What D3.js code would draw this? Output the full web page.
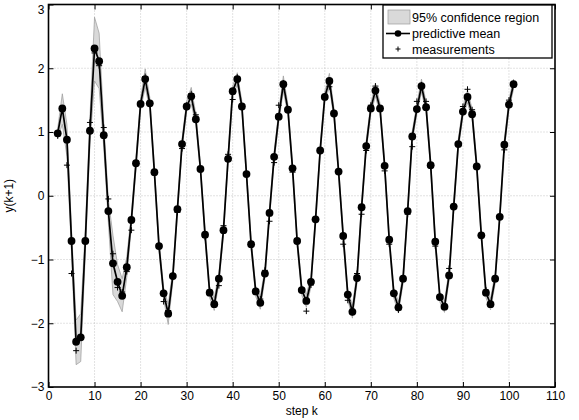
<!DOCTYPE html>
<html>
<head>
<meta charset="UTF-8">
<script src="https://d3js.org/d3.v7.min.js"></script>
<style>
  body { margin: 0; background: #fff; }
  text { font-family: "Liberation Sans", Arial, sans-serif; }
</style>
</head>
<body>
<script>
// steps k = 2..101
var steps = d3.range(2, 102);

// predictive mean
var mean = [
  0.98, 1.37, 0.88, -0.71, -2.29, -2.22, -0.71, 1.02, 2.31, 2.11,
  0.95, -0.24, -1.06, -1.35, -1.57, -1.12, -0.38, 0.51, 1.44, 1.83,
  1.45, 0.37, -0.79, -1.53, -1.85, -1.26, -0.21, 0.81, 1.40, 1.56,
  1.20, 0.42, -0.61, -1.52, -1.70, -1.30, -0.54, 0.58, 1.64, 1.83,
  1.40, 0.34, -0.76, -1.50, -1.68, -1.22, -0.27, 0.61, 1.24, 1.75,
  1.35, 0.43, -0.71, -1.48, -1.65, -1.35, -0.37, 0.71, 1.55, 1.80,
  1.29, 0.38, -0.63, -1.55, -1.82, -1.29, -0.18, 0.78, 1.37, 1.65,
  1.37, 0.47, -0.69, -1.53, -1.75, -1.30, -0.24, 0.93, 1.36, 1.72,
  1.39, 0.48, -0.72, -1.59, -1.74, -1.25, -0.17, 0.81, 1.32, 1.55,
  1.28, 0.46, -0.62, -1.52, -1.70, -1.30, -0.33, 0.80, 1.43, 1.75
];

// measurements
var meas = [
  0.94, 1.34, 0.48, -1.22, -2.43, -2.21, -0.70, 1.15, 2.24, 2.04,
  1.07, -0.05, -0.91, -1.44, -1.51, -1.19, -0.54, 0.50, 1.44, 1.87,
  1.46, 0.36, -0.78, -1.66, -1.80, -1.25, -0.26, 0.74, 1.42, 1.60,
  1.27, 0.41, -0.65, -1.48, -1.69, -1.41, -0.47, 0.65, 1.51, 1.86,
  1.41, 0.33, -0.77, -1.49, -1.62, -1.17, -0.40, 0.52, 1.42, 1.77,
  1.34, 0.37, -0.72, -1.47, -1.81, -1.40, -0.36, 0.70, 1.56, 1.71,
  1.30, 0.37, -0.76, -1.64, -1.83, -1.22, -0.29, 0.71, 1.42, 1.72,
  1.36, 0.39, -0.76, -1.52, -1.79, -1.29, -0.29, 0.77, 1.48, 1.74,
  1.48, 0.45, -0.79, -1.58, -1.75, -1.14, -0.18, 0.80, 1.40, 1.67,
  1.35, 0.45, -0.63, -1.48, -1.71, -1.31, -0.34, 0.72, 1.50, 1.76
];

// lower / upper edge of the 95% confidence region
var lower = [
  0.90, 1.12, 0.62, -0.88, -2.65, -2.60, -0.90, 0.80, 1.80, 1.68,
  0.76, -0.42, -1.55, -1.66, -1.82, -1.28, -0.48, 0.42, 1.35, 1.70,
  1.36, 0.29, -0.87, -1.62, -2.02, -1.35, -0.29, 0.73, 1.32, 1.44,
  1.12, 0.34, -0.69, -1.60, -1.80, -1.38, -0.62, 0.50, 1.56, 1.74,
  1.32, 0.26, -0.84, -1.58, -1.78, -1.30, -0.35, 0.53, 1.16, 1.64,
  1.27, 0.35, -0.79, -1.56, -1.75, -1.43, -0.45, 0.63, 1.47, 1.70,
  1.21, 0.30, -0.71, -1.63, -1.92, -1.37, -0.26, 0.70, 1.29, 1.56,
  1.29, 0.39, -0.77, -1.61, -1.84, -1.38, -0.32, 0.85, 1.28, 1.63,
  1.31, 0.40, -0.80, -1.67, -1.83, -1.33, -0.25, 0.73, 1.24, 1.46,
  1.20, 0.38, -0.70, -1.60, -1.79, -1.38, -0.41, 0.72, 1.35, 1.67
];
var upper = [
  1.06, 1.60, 1.12, -0.54, -1.95, -1.85, -0.52, 1.24, 2.80, 2.55,
  1.15, -0.06, -0.62, -1.08, -1.30, -0.96, -0.28, 0.60, 1.53, 1.99,
  1.54, 0.45, -0.71, -1.44, -1.70, -1.17, -0.13, 0.89, 1.48, 1.70,
  1.28, 0.50, -0.53, -1.44, -1.60, -1.22, -0.46, 0.66, 1.72, 1.93,
  1.48, 0.42, -0.68, -1.42, -1.58, -1.14, -0.19, 0.69, 1.32, 1.88,
  1.43, 0.51, -0.63, -1.40, -1.55, -1.27, -0.29, 0.79, 1.63, 1.92,
  1.37, 0.46, -0.55, -1.47, -1.72, -1.21, -0.10, 0.86, 1.45, 1.76,
  1.45, 0.55, -0.61, -1.45, -1.66, -1.22, -0.16, 1.01, 1.44, 1.83,
  1.47, 0.56, -0.64, -1.51, -1.65, -1.17, -0.09, 0.89, 1.40, 1.66,
  1.36, 0.54, -0.54, -1.44, -1.61, -1.22, -0.25, 0.88, 1.51, 1.83
];

var xTicks = d3.range(0, 111, 10);
var yTicks = d3.range(-3, 4, 1);
var legendLabels = ["95% confidence region", "predictive mean", "measurements"];

var W = 579, H = 420;
var margin = { top: 4.5, right: 24, bottom: 33, left: 48.5 };
var width = W - margin.left - margin.right,
    height = H - margin.top - margin.bottom;

var svg = d3.select("body").append("svg")
    .attr("width", W)
    .attr("height", H);

var g = svg.append("g")
    .attr("transform", "translate(" + margin.left + "," + margin.top + ")");

var x = d3.scaleLinear().domain([0, 110]).range([0, width]);
var y = d3.scaleLinear().domain([-3, 3]).range([height, 0]);

var data = steps.map(function (k, i) {
    return { k: k, m: mean[i], z: meas[i], lo: lower[i], hi: upper[i] };
});

// grid
g.append("g").selectAll("line")
    .data(xTicks.slice(1, -1)).enter().append("line")
    .attr("x1", d => x(d)).attr("x2", d => x(d))
    .attr("y1", 0).attr("y2", height)
    .attr("stroke", "#b8b8b8").attr("stroke-width", 0.8)
    .attr("stroke-dasharray", "1,2");
g.append("g").selectAll("line")
    .data(yTicks.slice(1, -1)).enter().append("line")
    .attr("y1", d => y(d)).attr("y2", d => y(d))
    .attr("x1", 0).attr("x2", width)
    .attr("stroke", "#b8b8b8").attr("stroke-width", 0.8)
    .attr("stroke-dasharray", "1,2");

// confidence region
var area = d3.area()
    .x(d => x(d.k))
    .y0(d => y(d.lo))
    .y1(d => y(d.hi));
g.append("path")
    .datum(data)
    .attr("d", area)
    .attr("fill", "#d9d9d9")
    .attr("stroke", "#9a9a9a")
    .attr("stroke-width", 0.7);

// predictive mean
var line = d3.line().x(d => x(d.k)).y(d => y(d.m));
g.append("path")
    .datum(data)
    .attr("d", line)
    .attr("fill", "none")
    .attr("stroke", "#000")
    .attr("stroke-width", 1.7);

g.selectAll(".dot")
    .data(data).enter().append("circle")
    .attr("cx", d => x(d.k))
    .attr("cy", d => y(d.m))
    .attr("r", 3.9)
    .attr("fill", "#000");

// measurements
g.selectAll(".meas")
    .data(data).enter().append("path")
    .attr("d", function (d) {
        var cx = x(d.k), cy = y(d.z), s = 3;
        return "M" + (cx - s) + "," + cy + "H" + (cx + s) + "M" + cx + "," + (cy - s) + "V" + (cy + s);
    })
    .attr("stroke", "#000")
    .attr("stroke-width", 1)
    .attr("fill", "none");

// axes (ticks inside, box)
var fmt = d => d < 0 ? "\u2212" + Math.abs(d) : String(d);
g.append("g")
    .attr("transform", "translate(0," + height + ")")
    .call(d3.axisBottom(x).tickValues(xTicks).tickSizeInner(-5).tickSizeOuter(0).tickPadding(4));
g.append("g")
    .call(d3.axisLeft(y).tickValues(yTicks).tickSizeInner(-5).tickSizeOuter(0).tickPadding(4).tickFormat(fmt))
    .selectAll(".tick text")
    .attr("dy", d => d === 3 ? "0.75em" : "0.32em");
g.append("g")
    .call(d3.axisTop(x).tickValues(xTicks).tickSizeInner(-5).tickSizeOuter(0).tickFormat(""));
g.append("g")
    .attr("transform", "translate(" + width + ",0)")
    .call(d3.axisRight(y).tickValues(yTicks).tickSizeInner(-5).tickSizeOuter(0).tickFormat(""));
g.selectAll(".domain").remove();
g.selectAll(".tick line").attr("stroke", "#000").attr("stroke-width", 1);
g.selectAll(".tick text").attr("fill", "#000").style("font-size", "12px");

g.append("rect")
    .attr("width", width).attr("height", height)
    .attr("fill", "none").attr("stroke", "#000").attr("stroke-width", 1.6);

// axis labels
g.append("text")
    .attr("x", width / 2).attr("y", height + 28)
    .attr("text-anchor", "middle")
    .style("font-size", "12px")
    .text("step k");
g.append("text")
    .attr("transform", "translate(-36," + (height / 2) + ") rotate(-90)")
    .attr("text-anchor", "middle")
    .style("font-size", "12px")
    .text("y(k+1)");

// legend
var lx0 = 383 - margin.left;
var lg = g.append("g").attr("transform", "translate(" + lx0 + ",0.5)");
lg.append("rect")
    .attr("x", 0).attr("y", 0).attr("width", 169).attr("height", 53)
    .attr("fill", "#fff").attr("stroke", "#000").attr("stroke-width", 1.3);
lg.append("rect")
    .attr("x", 5).attr("y", 5).attr("width", 22).attr("height", 14)
    .attr("fill", "#d9d9d9").attr("stroke", "#9a9a9a").attr("stroke-width", 0.7);
lg.append("line")
    .attr("x1", 3).attr("x2", 27).attr("y1", 28.5).attr("y2", 28.5)
    .attr("stroke", "#000").attr("stroke-width", 1.6);
lg.append("circle").attr("cx", 15).attr("cy", 28.5).attr("r", 3.3).attr("fill", "#000");
lg.append("path")
    .attr("d", "M12.5,44H17.5M15,41.5V46.5")
    .attr("stroke", "#000").attr("stroke-width", 1);
lg.selectAll(".lt")
    .data(legendLabels).enter().append("text")
    .attr("x", 29)
    .attr("y", (d, i) => 16.5 + i * 16)
    .style("font-size", "12.5px")
    .text(d => d);
</script>
</body>
</html>
